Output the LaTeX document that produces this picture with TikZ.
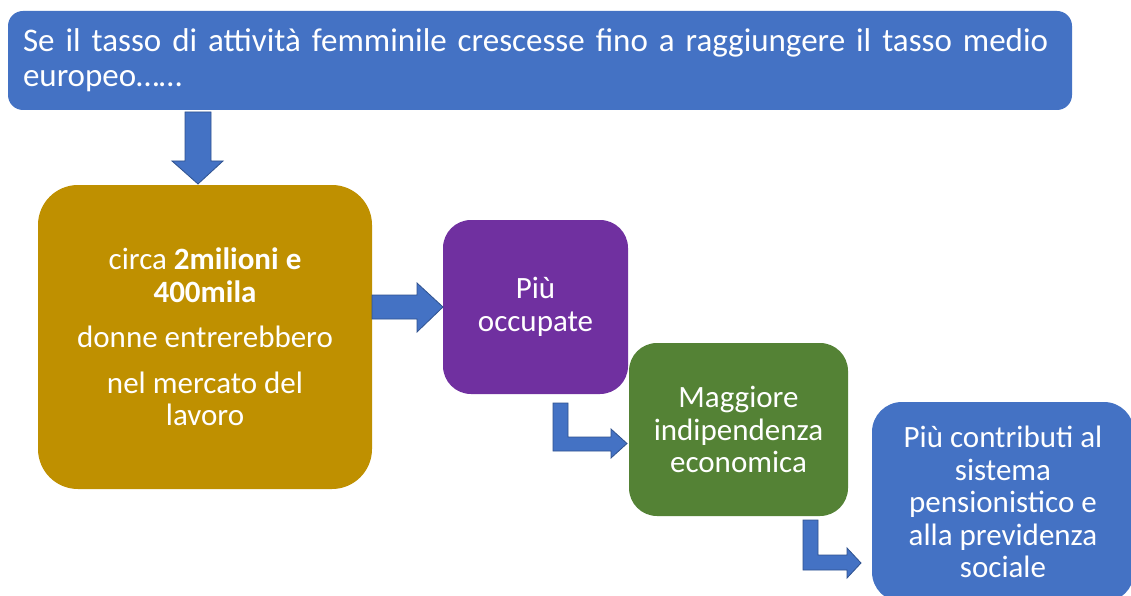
\documentclass[tikz,border=0pt]{standalone}
\usepackage{fontspec}
\setmainfont{Carlito}
\definecolor{cblue}{HTML}{4472C4}
\definecolor{cgold}{HTML}{BF9000}
\definecolor{cpurple}{HTML}{7030A0}
\definecolor{cgreen}{HTML}{548235}
\definecolor{cedge}{HTML}{2F528F}
\begin{document}
\begin{tikzpicture}[x=1pt,y=-1pt,
  box/.style={draw=none, text=white, inner sep=0pt, align=center, font=\fontsize{31}{32.5}\selectfont},
  blockarrow/.style={fill=cblue, draw=cedge, line width=0.8pt, line join=miter}]
\useasboundingbox (0,0) rectangle (1131,596);
\clip (0,0) rectangle (1131,596);
\fill[white] (0,0) rectangle (1131,596);

\node[box, fill=cblue, minimum width=1064pt, minimum height=99pt, rounded corners=15pt,
  text width=1034pt, align=left, font=\fontsize{33}{35}\selectfont] (top) at (540,60.5)
  {Se il tasso di attività femminile crescesse fino a raggiungere il tasso medio\\europeo……};

\node[box, fill=cgold, minimum width=334pt, minimum height=304pt, rounded corners=40pt] (gold) at (205,337)
  {circa \textbf{2milioni e}\\\textbf{400mila}\\[13pt]donne entrerebbero\\[13pt]nel mercato del\\lavoro};

\node[box, fill=cpurple, minimum width=185pt, minimum height=174pt, rounded corners=28pt] (purple) at (535.5,307)
  {Più\\occupate};

\node[box, fill=cgreen, minimum width=219pt, minimum height=173pt, rounded corners=28pt] (green) at (738.5,429.5)
  {Maggiore\\indipendenza\\economica};

\node[box, fill=cblue, minimum width=262pt, minimum height=200pt, rounded corners=30pt] (blue) at (1003,502)
  {Più contributi al\\sistema\\pensionistico e\\alla previdenza\\sociale};

% down arrow: top -> gold
\draw[blockarrow] (185,112) -- (211,112) -- (211,161) -- (223,161) -- (198,184) -- (172,161) -- (185,161) -- cycle;
% right arrow: gold -> purple
\draw[blockarrow] (372,295) -- (417,295) -- (417,283) -- (443,307) -- (417,332) -- (417,319) -- (372,319) -- cycle;
% bent arrow: purple -> green
\draw[blockarrow] (553,403) -- (568,403) -- (568,437) -- (611,437) -- (611,429) -- (627,443.5) -- (611,458) -- (611,451) -- (553,451) -- cycle;
% bent arrow: green -> blue
\draw[blockarrow] (803,520) -- (818,520) -- (818,555) -- (847,555) -- (847,548) -- (861,563) -- (847,578) -- (847,570) -- (803,570) -- cycle;
\end{tikzpicture}
\end{document}
